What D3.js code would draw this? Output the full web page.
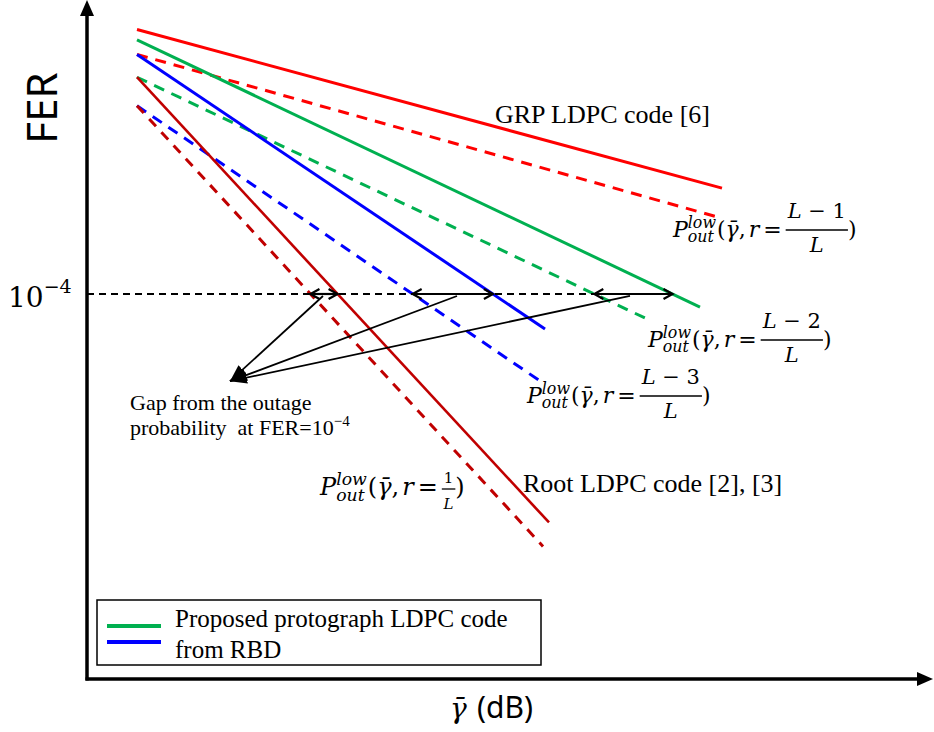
<!DOCTYPE html>
<html>
<head>
<meta charset="utf-8">
<script src="https://cdn.jsdelivr.net/npm/d3@7"></script>
<style>
  body { margin: 0; background: #fff; }
  .serif { font-family: "Liberation Serif", "Times New Roman", serif; }
  .math { font-family: "DejaVu Serif", serif; }
</style>
</head>
<body>
<script>
// each curve is a straight line on the log plot: [SNR (dB), FER] end points
var grpCode      = [[2.5, 1.0],    [31.75, 4.0e-3]];
var outageL1of   = [[2.5, 0.42],   [31.5, 1.47e-3]];   // r = (L-1)/L
var proposedHigh = [[2.5, 0.70],   [30.65, 6.35e-5]];
var outageL2of   = [[2.5, 0.19],   [27.9, 4.33e-5]];   // r = (L-2)/L
var proposedMid  = [[2.5, 0.42],   [22.9, 2.95e-5]];
var outageL3of   = [[2.5, 0.0705], [22.8, 4.5e-6]];    // r = (L-3)/L
var rootCode     = [[2.5, 0.19],   [23.1, 3.5e-8]];
var outage1of    = [[2.5, 0.0705], [22.8, 1.52e-8]];   // r = 1/L

var targetFer = 1e-4;
var gapPointerDb = [11.8, 18.5, 27.15];
var gapLabelPoint = [7.15, 4.8e-6];

var legendNames = ["Proposed protograph LDPC code", "from RBD"];

var width = 934, height = 732;

var svg = d3.select("body").append("svg")
    .attr("width", width)
    .attr("height", height);

var x = d3.scaleLinear().domain([0, 42.25]).range([87, 932]);
var y = d3.scaleLog().domain([1.5e-10, 2.8]).range([679, 0]);

var line = d3.line()
    .x(function(d) { return x(d[0]); })
    .y(function(d) { return y(d[1]); });

var red = "#ff0000", green = "#00b050", blue = "#0000ff", darkRed = "#c00000";

var curves = [
  {data: outageL1of,   color: red,     w: 3,   dash: "11,8"},
  {data: grpCode,      color: red,     w: 3,   dash: null},
  {data: outageL2of,   color: green,   w: 3,   dash: "11,8"},
  {data: proposedHigh, color: green,   w: 3,   dash: null},
  {data: outageL3of,   color: blue,    w: 3,   dash: "11,8"},
  {data: proposedMid,  color: blue,    w: 3,   dash: null},
  {data: outage1of,    color: darkRed, w: 3,   dash: "10,8"},
  {data: rootCode,     color: darkRed, w: 2.6, dash: null}
];

svg.selectAll("path.curve")
  .data(curves)
  .enter()
    .append("path")
      .attr("class", "curve")
      .attr("d", function(d) { return line(d.data); })
      .attr("fill", "none")
      .attr("stroke", function(d) { return d.color; })
      .attr("stroke-width", function(d) { return d.w; })
      .attr("stroke-dasharray", function(d) { return d.dash; });

// SNR where a curve crosses the target FER (straight in log domain)
function crossing(pts, fer) {
  var a = pts[0], b = pts[1];
  var t = (Math.log10(fer) - Math.log10(a[1])) / (Math.log10(b[1]) - Math.log10(a[1]));
  return a[0] + t * (b[0] - a[0]);
}

var yT = y(targetFer);

// horizontal dashed line at FER = 1e-4
svg.append("line")
    .attr("x1", x(0)).attr("x2", x(crossing(proposedHigh, targetFer)))
    .attr("y1", yT).attr("y2", yT)
    .attr("stroke", "#000")
    .attr("stroke-width", 2)
    .attr("stroke-dasharray", "7,5");

// gap arrows (outage bound -> code)
var gaps = [[outage1of, rootCode], [outageL3of, proposedMid], [outageL2of, proposedHigh]];
gaps.forEach(function(p) {
  var xa = x(crossing(p[0], targetFer)), xb = x(crossing(p[1], targetFer));
  svg.append("line")
      .attr("x1", xa).attr("x2", xb).attr("y1", yT).attr("y2", yT)
      .attr("stroke", "#000").attr("stroke-width", 2.2);
  svg.append("path")
      .attr("d", "M" + (xa + 9) + "," + (yT - 5) + "L" + xa + "," + yT + "L" + (xa + 9) + "," + (yT + 5) +
                 "M" + (xb - 9) + "," + (yT - 5) + "L" + xb + "," + yT + "L" + (xb - 9) + "," + (yT + 5))
      .attr("fill", "none").attr("stroke", "#000").attr("stroke-width", 2.2);
});

// pointers to the gap label
svg.append("defs").append("marker")
    .attr("id", "head")
    .attr("markerUnits", "userSpaceOnUse")
    .attr("viewBox", "0 -7 18 14")
    .attr("refX", 17).attr("refY", 0)
    .attr("markerWidth", 18).attr("markerHeight", 14)
    .attr("orient", "auto")
  .append("path")
    .attr("d", "M0,-6L17,0L0,6Z")
    .attr("fill", "#000");

svg.selectAll("line.pointer")
  .data(gapPointerDb)
  .enter()
    .append("line")
      .attr("class", "pointer")
      .attr("x1", function(d) { return x(d); })
      .attr("y1", yT + 2)
      .attr("x2", x(gapLabelPoint[0]))
      .attr("y2", y(gapLabelPoint[1]))
      .attr("stroke", "#000")
      .attr("stroke-width", 1.8)
      .attr("marker-end", "url(#head)");

// axes with arrow heads
var x0 = x(0), yAxisBase = 679;
svg.append("line")
    .attr("x1", x0).attr("x2", x0).attr("y1", yAxisBase + 1.5).attr("y2", 12)
    .attr("stroke", "#000").attr("stroke-width", 3.5);
svg.append("path")
    .attr("d", "M" + x0 + ",0L" + (x0 - 7) + ",16L" + (x0 + 7) + ",16Z")
    .attr("fill", "#000");
svg.append("line")
    .attr("x1", x0 - 1.5).attr("x2", 920).attr("y1", yAxisBase).attr("y2", yAxisBase)
    .attr("stroke", "#000").attr("stroke-width", 3.5);
svg.append("path")
    .attr("d", "M933," + yAxisBase + "L917," + (yAxisBase - 7) + "L917," + (yAxisBase + 7) + "Z")
    .attr("fill", "#000");

// axis titles
svg.append("text")
    .attr("transform", "translate(57,108) rotate(-90)")
    .attr("text-anchor", "middle")
    .style("font-family", "'Noto Sans', sans-serif")
    .style("font-size", "42px")
    .text("FER");

var tick = svg.append("text").attr("class", "math").attr("x", 8).attr("y", yT + 13);
tick.append("tspan").style("font-size", "28px").text("10");
tick.append("tspan").style("font-size", "19px").attr("dy", -14).text("\u22124");

var xl = svg.append("g").attr("transform", "translate(450,718)");
xl.append("text").attr("class", "math")
    .style("font-size", "28px").style("font-style", "italic").text("\u03b3\u0304");
xl.append("text")
    .attr("x", 27)
    .style("font-family", "'Noto Sans', sans-serif")
    .style("font-size", "30px")
    .text("(dB)");

// outage formula labels
function outageLabel(px, py, num, opt) {
  var fs = opt.fs;
  var g = svg.append("g").attr("class", "math").attr("transform", "translate(" + px + "," + py + ")");
  var cx = 0;
  function put(str, size, xx, yy, italic, anchor) {
    var t = g.append("text")
        .attr("x", xx).attr("y", yy)
        .attr("text-anchor", anchor || "start")
        .style("font-size", size + "px")
        .style("font-style", italic ? "italic" : "normal")
        .text(str);
    return t.node().getComputedTextLength();
  }
  cx += put("P", fs, cx, 0, true);
  var wl = put("low", fs * 0.72, cx, -fs * 0.4, true);
  var wo = put("out", fs * 0.72, cx, fs * 0.24, true);
  cx += Math.max(wl, wo) + 1;
  cx += put("(", fs, cx, 0, false);
  cx += put("\u03b3\u0304", fs, cx, 0, true);
  cx += put(",", fs, cx, 0, false) + 3;
  cx += put("r", fs, cx, 0, true) + 4;
  cx += put("=", fs, cx, 0, false) + 4;
  var ff = opt.fracFs;
  var probe = g.append("text").style("font-size", ff + "px").text(num);
  var wn = probe.node().getComputedTextLength();
  probe.remove();
  var wf = wn + 4;
  var numT = g.append("text").attr("x", cx + wf / 2).attr("y", opt.numDy)
      .attr("text-anchor", "middle").style("font-size", ff + "px");
  num.split(" ").forEach(function(s, i) {
    numT.append("tspan").style("font-style", s === "L" ? "italic" : "normal")
        .text((i > 0 ? " " : "") + s);
  });
  put("L", ff, cx + wf / 2, opt.denDy, true, "middle");
  g.append("line")
      .attr("x1", cx).attr("x2", cx + wf)
      .attr("y1", opt.lineDy).attr("y2", opt.lineDy)
      .attr("stroke", "#000").attr("stroke-width", 1.3);
  cx += wf;
  put(")", fs, cx, 0, false);
}

var big = {fs: 22, fracFs: 21, numDy: -19, lineDy: -7, denDy: 15};
outageLabel(673, 237, "L \u2212 1", big);
outageLabel(648, 347, "L \u2212 2", big);
outageLabel(527, 403, "L \u2212 3", big);
outageLabel(320, 495, "1", {fs: 24, fracFs: 15, numDy: -12, lineDy: -6, denDy: 14});

// code labels
svg.append("text").attr("class", "serif")
    .attr("x", 495).attr("y", 123)
    .style("font-size", "26px")
    .text("GRP LDPC code [6]");
svg.append("text").attr("class", "serif")
    .attr("x", 523).attr("y", 492)
    .style("font-size", "26px")
    .text("Root LDPC code [2], [3]");

var gapText = svg.append("text").attr("class", "serif").style("font-size", "22px");
gapText.append("tspan").attr("x", 130).attr("y", 410).text("Gap from the outage");
gapText.append("tspan").attr("x", 130).attr("y", 435).text("probability \u00a0at FER=10");
gapText.append("tspan").attr("dy", -9).style("font-size", "15px").text("\u22124");

// legend
svg.append("rect")
    .attr("x", 97).attr("y", 600).attr("width", 444).attr("height", 65)
    .attr("fill", "#fff").attr("stroke", "#000").attr("stroke-width", 1.5);
[green, blue].forEach(function(c, i) {
  svg.append("line")
      .attr("x1", 107).attr("x2", 161)
      .attr("y1", 626 + i * 16).attr("y2", 626 + i * 16)
      .attr("stroke", c).attr("stroke-width", 4);
});
svg.selectAll("text.legend")
  .data(legendNames)
  .enter()
    .append("text")
      .attr("class", "legend serif")
      .attr("x", 175)
      .attr("y", function(d, i) { return 627 + i * 31; })
      .style("font-size", "25px")
      .text(function(d) { return d; });
</script>
</body>
</html>
